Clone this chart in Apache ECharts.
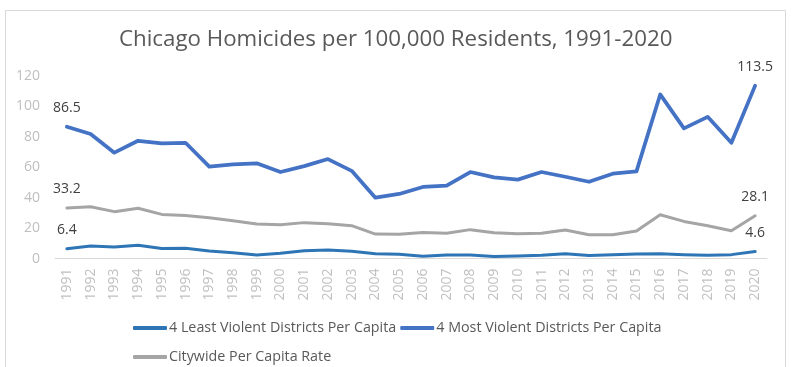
<!DOCTYPE html>
<html><head><meta charset="utf-8">
<script src="https://cdn.jsdelivr.net/npm/echarts@6/dist/echarts.min.js"></script>
<style>html,body{margin:0;padding:0;background:#fff}#c{width:804px;height:367px}</style>
</head><body><div id="c"></div>
<script>
const years = ['1991','1992','1993','1994','1995','1996','1997','1998','1999','2000','2001','2002','2003','2004','2005','2006','2007','2008','2009','2010','2011','2012','2013','2014','2015','2016','2017','2018','2019','2020'];
const leastViolent = [6.4,8.3,7.6,8.7,6.7,6.8,5.0,3.9,2.4,3.5,5.2,5.6,4.8,3.2,2.8,1.5,2.4,2.4,1.3,1.7,2.2,3.2,2.0,2.6,3.0,3.2,2.6,2.2,2.6,4.6];
const mostViolent = [86.5,81.7,69.5,77.3,75.6,76.0,60.3,61.8,62.5,56.8,60.7,65.3,57.6,40.0,42.4,47.0,47.8,56.8,53.3,51.8,56.8,53.7,50.4,55.7,57.2,107.7,85.4,93.0,76.0,113.5];
const citywide = [33.2,34.0,30.8,33.0,29.0,28.2,26.8,24.9,22.7,22.2,23.6,22.9,21.6,16.1,15.9,17.2,16.6,19.0,17.0,16.3,16.6,18.8,15.7,15.7,18.1,28.8,24.4,21.6,18.3,28.1];
const yTicks = {min:0, max:120, interval:20};
const names = ['4 Least Violent Districts Per Capita','4 Most Violent Districts Per Capita','Citywide Per Capita Rate'];

const FONT = 'Open Sans';
function endLabels(params){
  return (params.dataIndex === 0 || params.dataIndex === years.length-1) ? String(params.value) : '';
}
const chart = echarts.init(document.getElementById('c'), null, {renderer:'canvas'});
function mk(name, data, color, width){
  return {
    name, type:'line', data, symbol:'circle', symbolSize:0.1, showSymbol:true, smooth:false,
    lineStyle:{color, width, cap:'round', join:'round'},
    itemStyle:{color},
    label:{show:true, position:'top', distance:12, formatter:endLabels, color:'#404040', fontSize:14, fontFamily:FONT},
    labelLayout:{hideOverlap:false},
    emphasis:{disabled:true}
  };
}
chart.setOption({
  animation:false,
  textStyle:{fontFamily:FONT},
  title:{text:'Chicago Homicides per 100,000 Residents, 1991-2020', left:114, top:24,
    textStyle:{fontFamily:FONT, fontSize:22.3, fontWeight:'normal', color:'#595959'}},
  graphic:[{type:'rect', shape:{x:5.5, y:10.5, width:780, height:400}, style:{fill:'none', stroke:'#d9d9d9', lineWidth:1}, silent:true, z:-1}],
  grid:{left:55, right:37, top:75.7, bottom:108.4, containLabel:false},
  legend:{left:133, top:315.5, width:600, padding:0, itemWidth:34, itemHeight:4, itemGap:4, icon:'roundRect',
    textStyle:{fontFamily:FONT, fontSize:14.3, color:'#595959', padding:[0,0,0,-3], lineHeight:25},
    data:names},
  xAxis:{type:'category', data:years, boundaryGap:true,
    axisLine:{lineStyle:{color:'#d9d9d9', width:1}}, axisTick:{show:false},
    axisLabel:{rotate:90, color:'#bfbfbf', fontSize:14, fontFamily:FONT, margin:10, interval:0}},
  yAxis:{type:'value', min:yTicks.min, max:yTicks.max, interval:yTicks.interval,
    splitLine:{show:false}, axisLine:{show:false}, axisTick:{show:false},
    axisLabel:{color:'#bfbfbf', fontSize:14, fontFamily:FONT, margin:15}},
  series:[
    mk(names[0], leastViolent, '#2E75B6', 3),
    mk(names[1], mostViolent, '#4472C4', 3.75),
    mk(names[2], citywide, '#A5A5A5', 3)
  ]
});
</script></body></html>
